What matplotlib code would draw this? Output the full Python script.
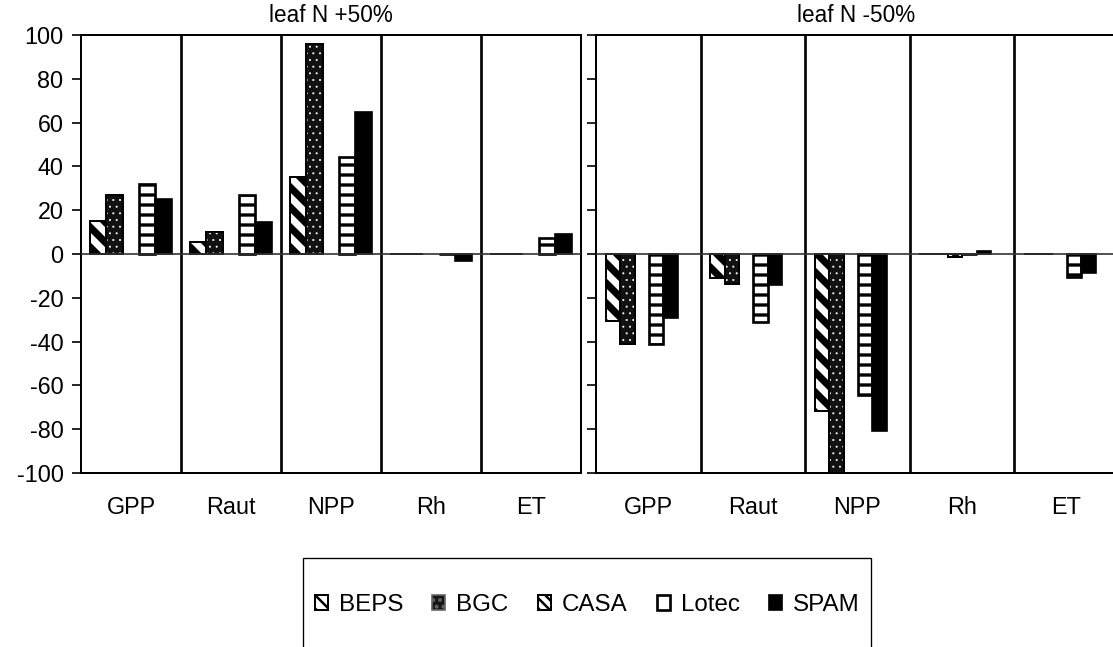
import numpy as np
import matplotlib
matplotlib.use("Agg")
import matplotlib.pyplot as plt
from matplotlib.patches import Rectangle, Patch
from matplotlib.collections import LineCollection
from matplotlib.transforms import IdentityTransform

plt.rcParams['font.family'] = ['Liberation Sans', 'DejaVu Sans']
plt.rcParams['axes.unicode_minus'] = False

categories = ["GPP", "Raut", "NPP", "Rh", "ET"]
models = ["BEPS", "BGC", "CASA", "Lotec", "SPAM"]
nan = np.nan

# leaf N +50% (percent change)
plus_beps = [15, 5.5, 35, 0, 0]
plus_bgc = [27, 10, 96, 0, 0]
plus_casa = [nan, nan, nan, nan, nan]
plus_lotec = [32, 27, 44.5, 0, 7.5]
plus_spam = [25, 14.5, 65, -3, 9]

# leaf N -50% (percent change)
minus_beps = [-30.5, -11, -71.5, 0, 0]
minus_bgc = [-41, -13.5, -100, 0, 0]
minus_casa = [nan, nan, nan, -1.2, nan]
minus_lotec = [-41, -31, -64.5, 0, -10.5]
minus_spam = [-29, -14, -81, 1.5, -8.5]

plus_values = [plus_beps, plus_bgc, plus_casa, plus_lotec, plus_spam]
minus_values = [minus_beps, minus_bgc, minus_casa, minus_lotec, minus_spam]

styles = {
    "BEPS": dict(face="white", edge="black", hatch=None, hlw=1.0, lw=1.2),
    "BGC": dict(face="#111111", edge="white", hatch="...", hlw=0.4, lw=0),
    "CASA": dict(face="white", edge="black", hatch="\\\\", hlw=3.0, lw=1.2),
    "Lotec": dict(face="white", edge="black", hatch="--", hlw=2.0, lw=1.6),
    "SPAM": dict(face="black", edge="black", hatch=None, hlw=1.0, lw=1.0),
}

W, H, DPI = 1113, 647, 120
fig = plt.figure(figsize=(W / DPI, H / DPI), dpi=DPI)
FS = 14


def px_axes(x0, x1, y0, y1):
    return fig.add_axes([x0 / W, 1 - y1 / H, (x1 - x0) / W, (y1 - y0) / H])


def set_hlw(p, lw):
    try:
        p.set_hatch_linewidth(lw)
    except AttributeError:
        pass


def thick_stripes(ax, bars):
    # BEPS: thick "\" stripes, drawn in pixel space and clipped to each bar
    step = 20
    segs = [[(c, H + 50), (c + H + 100, -50)] for c in range(-H - 100, W + 50, step)]
    for b in bars:
        if not np.isfinite(b.get_height()) or b.get_height() == 0:
            continue
        lc = LineCollection(segs, colors='black', linewidths=4.3,
                            transform=IdentityTransform(), zorder=3.5)
        ax.add_collection(lc, autolim=False)
        lc.set_clip_path(b)


def draw_panel(ax, values, title, offset, width):
    x = np.arange(len(categories))
    ax.set_xlim(0, len(categories))
    ax.set_ylim(-100, 100)
    for j, (name, vals) in enumerate(zip(models, values)):
        st = styles[name]
        plt.rcParams['hatch.linewidth'] = st['hlw']
        bars = ax.bar(x + offset + j * width, vals, width, align='edge',
                      color=st['face'], edgecolor=st['edge'], hatch=st['hatch'],
                      linewidth=st['lw'], label=name, zorder=3)
        for b in bars:
            set_hlw(b, st['hlw'])
        if name == "BGC":
            ax.bar(x + offset + j * width, vals, width, align='edge',
                   fill=False, edgecolor='black', linewidth=1.2, zorder=4)
        if name == "BEPS":
            thick_stripes(ax, bars)
            ax.bar(x + offset + j * width, vals, width, align='edge',
                   fill=False, edgecolor='black', linewidth=1.2, zorder=4)

    for k in range(1, len(categories)):
        ax.axvline(k, color='black', lw=1.6, zorder=2)
    ax.axhline(0, color='#333333', lw=1.0, zorder=5)

    ax.set_yticks(np.arange(-100, 101, 20))
    ax.set_xticks(x + 0.5)
    ax.set_xticklabels(categories)
    ax.tick_params(axis='x', length=0, pad=14, labelsize=FS)
    ax.tick_params(axis='y', direction='out', length=5.5, width=1.0,
                   pad=5, labelsize=FS)
    for s in ax.spines.values():
        s.set_linewidth(1.2)
        s.set_color('black')
    ax.set_title(title, fontsize=13.5, pad=8)


ax1 = px_axes(81, 581, 35, 473)
draw_panel(ax1, plus_values, "leaf N +50%", 0.09, 0.163)

ax2 = px_axes(596, 1118.5, 35, 473)
draw_panel(ax2, minus_values, "leaf N -50%", 0.093, 0.138)
ax2.tick_params(axis='y', labelleft=False)
ax2.title.set_position((0.497, 1.0))

# legend swatches
plt.rcParams['hatch.linewidth'] = 3.0
h_beps = Patch(facecolor='white', edgecolor='black', hatch='\\\\\\', lw=1.2)
set_hlw(h_beps, 3.0)
plt.rcParams['hatch.linewidth'] = 0.5
h_bgc = Patch(facecolor='#151515', edgecolor='#666666', hatch='...', lw=1.0)
set_hlw(h_bgc, 0.5)
plt.rcParams['hatch.linewidth'] = 1.5
h_casa = Patch(facecolor='white', edgecolor='black', hatch='\\\\\\\\', lw=1.2)
set_hlw(h_casa, 1.8)
h_lotec = Patch(facecolor='white', edgecolor='black', lw=1.6)
h_spam = Patch(facecolor='black', edgecolor='black', lw=1.0)

fig.legend([h_beps, h_bgc, h_casa, h_lotec, h_spam], models, loc='center',
           bbox_to_anchor=(587 / W, 1 - 605 / H),
           ncol=5, frameon=False, fontsize=14.5, handlelength=0.55,
           handleheight=0.55, handletextpad=0.45, columnspacing=1.2,
           borderpad=0)
fig.add_artist(Rectangle((303 / W, 1 - 700 / H), (871 - 303) / W, (700 - 558) / H,
                         transform=fig.transFigure, fill=False,
                         edgecolor='black', lw=0.8))

fig.savefig("out.png", dpi=DPI)
